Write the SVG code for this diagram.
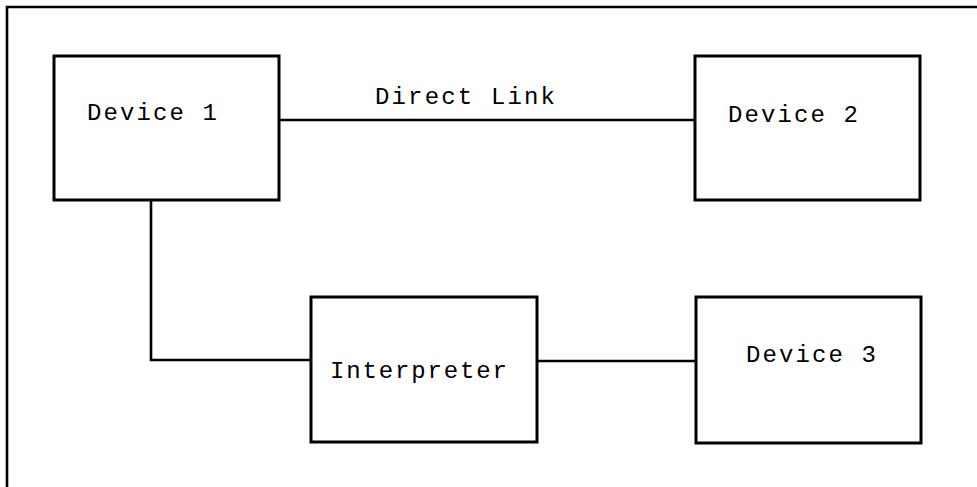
<svg xmlns="http://www.w3.org/2000/svg" width="977" height="487" viewBox="0 0 977 487">
<style>
.box{fill:#fff;stroke:#000;stroke-width:3}
.ln{fill:none;stroke:#000;stroke-width:2.6}
.t{font-family:"Liberation Mono","Courier New",monospace;font-size:24px;fill:#000}
</style>
<rect width="977" height="487" fill="#fff"/>
<g id="frame"><path class="ln" d="M7,487 V7 H977"/></g>
<g id="connectors">
<path class="ln" d="M279,120 H695"/>
<path class="ln" d="M151,200 V360 H311"/>
<path class="ln" d="M537,361 H696"/>
<text class="t" x="375" y="104" textLength="180" lengthAdjust="spacing">Direct Link</text>
</g>
<g id="device1"><rect class="box" x="54" y="56" width="225" height="144"/><text class="t" x="87" y="120" textLength="130" lengthAdjust="spacing">Device 1</text></g>
<g id="device2"><rect class="box" x="695" y="56" width="225" height="144"/><text class="t" x="728" y="122" textLength="130" lengthAdjust="spacing">Device 2</text></g>
<g id="interpreter"><rect class="box" x="311" y="297" width="226" height="145"/><text class="t" x="330" y="378" textLength="177" lengthAdjust="spacing">Interpreter</text></g>
<g id="device3"><rect class="box" x="696" y="297" width="225" height="146"/><text class="t" x="746" y="362" textLength="130" lengthAdjust="spacing">Device 3</text></g>
</svg>
